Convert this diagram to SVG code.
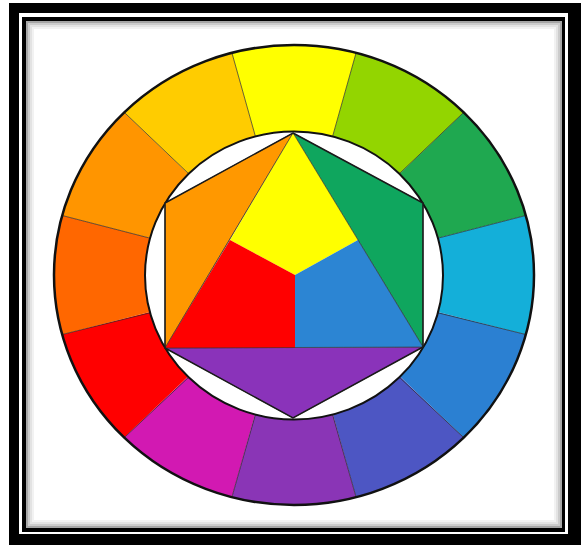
<svg xmlns="http://www.w3.org/2000/svg" width="584" height="545" viewBox="0 0 584 545">
<style>
.seg{stroke:none}
.div{stroke:#2a2a2a;stroke-width:1;stroke-opacity:0.7;fill:none}
.sh{fill:none;stroke:#000}
.tri{stroke:#333;stroke-width:1;stroke-opacity:0.6}
</style>
<rect width="584" height="545" fill="#ffffff"/>
<g id="frame">
<rect x="9" y="3" width="572" height="542" fill="#000"/>
<rect x="19" y="13" width="549" height="521" fill="#fff"/>
<rect x="22" y="17" width="543" height="515" fill="#000"/>
<rect x="26" y="21" width="536" height="507" fill="#fff"/>
<rect class="sh" x="27" y="22" width="534" height="505" stroke-width="2" stroke-opacity="0.35"/>
<rect class="sh" x="29" y="24" width="530" height="501" stroke-width="2" stroke-opacity="0.2"/>
<rect class="sh" x="31" y="26" width="526" height="497" stroke-width="2" stroke-opacity="0.11"/>
<rect class="sh" x="33" y="28" width="522" height="493" stroke-width="2" stroke-opacity="0.05"/>
</g>
<g id="ring">
<path id="seg-yellow" class="seg" fill="#FFFF00" d="M294,275 L231.9,52.8 A240,230 0 0 1 356.1,52.8 Z"/>
<path id="seg-yellow-green" class="seg" fill="#93D500" d="M294,275 L356.1,52.8 A240,230 0 0 1 463.7,112.4 Z"/>
<path id="seg-green" class="seg" fill="#1FA850" d="M294,275 L463.7,112.4 A240,230 0 0 1 525.8,215.5 Z"/>
<path id="seg-blue-green" class="seg" fill="#14AFD9" d="M294,275 L525.8,215.5 A240,230 0 0 1 525.8,334.5 Z"/>
<path id="seg-blue" class="seg" fill="#2B80D2" d="M294,275 L525.8,334.5 A240,230 0 0 1 463.7,437.6 Z"/>
<path id="seg-blue-violet" class="seg" fill="#4D56C3" d="M294,275 L463.7,437.6 A240,230 0 0 1 356.1,497.2 Z"/>
<path id="seg-violet" class="seg" fill="#8A35B6" d="M294,275 L356.1,497.2 A240,230 0 0 1 231.9,497.2 Z"/>
<path id="seg-red-violet" class="seg" fill="#D219B2" d="M294,275 L231.9,497.2 A240,230 0 0 1 124.3,437.6 Z"/>
<path id="seg-red" class="seg" fill="#FF0000" d="M294,275 L124.3,437.6 A240,230 0 0 1 62.2,334.5 Z"/>
<path id="seg-red-orange" class="seg" fill="#FF6700" d="M294,275 L62.2,334.5 A240,230 0 0 1 62.2,215.5 Z"/>
<path id="seg-orange" class="seg" fill="#FF9500" d="M294,275 L62.2,215.5 A240,230 0 0 1 124.3,112.4 Z"/>
<path id="seg-yellow-orange" class="seg" fill="#FFCC00" d="M294,275 L124.3,112.4 A240,230 0 0 1 231.9,52.8 Z"/>
</g>
<g id="connectors">
<line class="div" x1="332.6" y1="136.4" x2="356.1" y2="52.8"/>
<line class="div" x1="399.4" y1="173.7" x2="463.7" y2="112.4"/>
<line class="div" x1="437.9" y1="238.2" x2="525.8" y2="215.5"/>
<line class="div" x1="437.9" y1="312.8" x2="525.8" y2="334.5"/>
<line class="div" x1="399.4" y1="377.3" x2="463.7" y2="437.6"/>
<line class="div" x1="332.6" y1="414.6" x2="356.1" y2="497.2"/>
<line class="div" x1="255.4" y1="414.6" x2="231.9" y2="497.2"/>
<line class="div" x1="188.6" y1="377.3" x2="124.3" y2="437.6"/>
<line class="div" x1="150.1" y1="312.8" x2="62.2" y2="334.5"/>
<line class="div" x1="150.1" y1="238.2" x2="62.2" y2="215.5"/>
<line class="div" x1="188.6" y1="173.7" x2="124.3" y2="112.4"/>
<line class="div" x1="255.4" y1="136.4" x2="231.9" y2="52.8"/>
</g>
<ellipse id="outer-rim" cx="294" cy="275" rx="240" ry="230" fill="none" stroke="#111" stroke-width="2.5"/>
<ellipse id="inner-disc" cx="294" cy="275.5" rx="149" ry="144" fill="#fff" stroke="#111" stroke-width="2"/>
<g id="hexagon">
<path id="hex-orange" class="tri" fill="#FF9800" d="M293,133 L165,203 L165,348 Z"/>
<path id="hex-green" class="tri" fill="#0FA65E" d="M293,133 L423,203 L423,347 Z"/>
<path id="hex-violet" class="tri" fill="#8A33BA" d="M165,348 L423,347 L293,418 Z"/>
<path id="tri-yellow" fill="#FFFF00" d="M293,133 L358,240 L295,275 L230,240 Z"/>
<path id="tri-red" fill="#FF0000" d="M230,240 L295,275 L295,348 L165,348 Z"/>
<path id="tri-blue" fill="#2C85D3" d="M358,240 L295,275 L295,347.5 L423,347 Z"/>
<path d="M293,133 L423,347 L165,348 Z" fill="none" stroke="#333" stroke-width="1" stroke-opacity="0.6"/>
<path d="M293,133 L423,203 L423,347 L293,418 L165,348 L165,203 Z" fill="none" stroke="#1a1a1a" stroke-width="1.5"/>
</g>
</svg>
